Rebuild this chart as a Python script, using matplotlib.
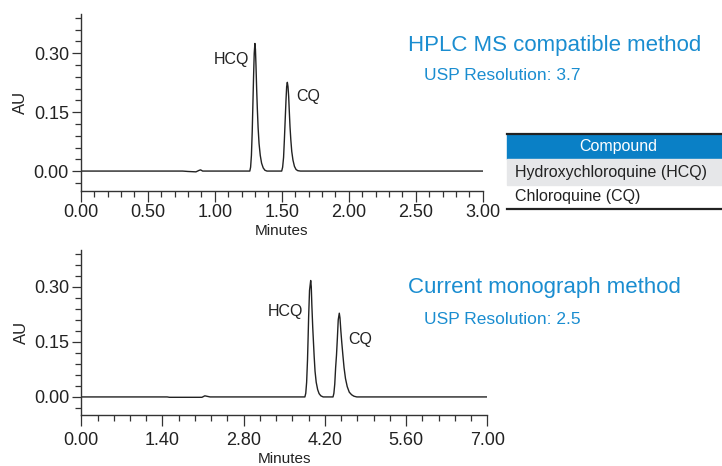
import matplotlib
matplotlib.use("Agg")
import matplotlib.pyplot as plt
from matplotlib.ticker import MultipleLocator, FormatStrFormatter
from matplotlib.patches import Rectangle
from matplotlib.lines import Line2D

plt.rcParams['font.family'] = ['Liberation Sans', 'DejaVu Sans']

# trace (HPLC MS compatible method)
t_ms = [0.00, 0.76, 0.80, 0.86, 0.885, 0.895, 0.91, 1.262, 1.268, 1.274, 1.280,
        1.285, 1.290, 1.295, 1.300, 1.304, 1.308, 1.313, 1.318, 1.324, 1.331,
        1.340, 1.350, 1.362, 1.375, 1.39, 1.500, 1.507, 1.514, 1.520, 1.526,
        1.532, 1.537, 1.542, 1.547, 1.552, 1.557, 1.562, 1.568, 1.575, 1.584,
        1.595, 1.607, 1.62, 1.64, 3.00]
au_ms = [0.000, 0.000, -0.001, -0.002, 0.002, 0.003, 0.000, 0.000, 0.010, 0.040, 0.100,
         0.170, 0.240, 0.300, 0.325, 0.310, 0.270, 0.210, 0.160, 0.110, 0.070,
         0.040, 0.020, 0.008, 0.002, 0.000, 0.000, 0.010, 0.035, 0.080, 0.130,
         0.180, 0.215, 0.226, 0.215, 0.190, 0.150, 0.113, 0.080, 0.050, 0.028,
         0.012, 0.004, 0.001, 0.000, 0.000]

# trace (current monograph method)
t_mono = [0.00, 1.48, 1.52, 2.08, 2.13, 2.16, 2.22, 3.855, 3.87, 3.885, 3.90, 3.91,
          3.92, 3.935, 3.955, 3.965, 3.975, 3.99, 4.00, 4.015, 4.03, 4.05, 4.075,
          4.10, 4.13, 4.17, 4.34, 4.355, 4.37, 4.385, 4.40, 4.415, 4.43, 4.448,
          4.46, 4.475, 4.49, 4.51, 4.53, 4.555, 4.585, 4.62, 4.66, 4.70, 4.75, 7.00]
au_mono = [0.000, 0.000, -0.001, -0.001, 0.003, 0.002, 0.000, 0.000, 0.010, 0.040, 0.100, 0.158,
           0.220, 0.290, 0.317, 0.300, 0.250, 0.190, 0.158, 0.110, 0.070, 0.040, 0.020,
           0.009, 0.003, 0.000, 0.000, 0.010, 0.035, 0.080, 0.114, 0.160, 0.210, 0.228,
           0.215, 0.180, 0.150, 0.114, 0.080, 0.050, 0.028, 0.013, 0.006, 0.002, 0.000, 0.000]

peak_names = ["HCQ", "CQ"]
ms_label_pos = [(1.256, 0.285), (1.607, 0.189)]
mono_label_pos = [(3.817, 0.232), (4.60, 0.157)]

titles = ["HPLC MS compatible method", "Current monograph method"]
resolutions = ["USP Resolution: 3.7", "USP Resolution: 2.5"]

table_header = "Compound"
compounds = ["Hydroxychloroquine (HCQ)", "Chloroquine (CQ)"]

blue_txt = '#1a8dd0'
blue_head = '#0a80c6'
W, H = 722, 466

fig = plt.figure(figsize=(7.22, 4.66), dpi=100)
ax1 = fig.add_axes([80.7 / W, 1 - 190.7 / H, 402 / W, 176.7 / H])
ax2 = fig.add_axes([81.3 / W, 1 - 415.3 / H, 406 / W, 165.3 / H])


def style(ax, xmax, major, minor, xpad):
    ax.set_xlim(0, xmax)
    ax.set_ylim(-0.05, 0.40)
    for s in ['top', 'right']:
        ax.spines[s].set_visible(False)
    for s in ['left', 'bottom']:
        ax.spines[s].set_color('#333333')
        ax.spines[s].set_linewidth(1.0)
    ax.xaxis.set_major_locator(MultipleLocator(major))
    ax.xaxis.set_minor_locator(MultipleLocator(minor))
    ax.yaxis.set_major_locator(MultipleLocator(0.15))
    ax.yaxis.set_minor_locator(MultipleLocator(0.03))
    ax.xaxis.set_major_formatter(FormatStrFormatter('%.2f'))
    ax.yaxis.set_major_formatter(FormatStrFormatter('%.2f'))
    ax.tick_params(which='both', width=0.9, color='#333333',
                   labelsize=13, labelcolor='#222222')
    ax.tick_params(axis='x', which='major', length=8, pad=xpad)
    ax.tick_params(axis='y', which='major', length=6.5, pad=2)
    ax.tick_params(which='minor', length=4.2)
    ax.set_xlabel('Minutes', fontsize=11, color='#222222', labelpad=2.5)
    ax.set_ylabel('AU', fontsize=12, color='#222222', labelpad=4)


style(ax1, 3.0, 0.5, 0.1, 1.5)
style(ax2, 7.0, 1.4, 0.28, 4.0)

ax1.plot(t_ms, au_ms, color='#222222', lw=1.0)
ax2.plot(t_mono, au_mono, color='#222222', lw=1.0)

for name, (x, y) in zip(peak_names, ms_label_pos):
    ax1.text(x, y, name, fontsize=11.5, color='#222222',
             ha='right' if name == 'HCQ' else 'left', va='center')
for name, (x, y) in zip(peak_names, mono_label_pos):
    ax2.text(x, y, name, fontsize=11.5, color='#222222',
             ha='right' if name == 'HCQ' else 'left', va='center')

# method titles
fig.text(408 / W, 1 - 45 / H, titles[0], fontsize=16, color=blue_txt, va='center')
fig.text(424 / W, 1 - 76 / H, resolutions[0], fontsize=12.5, color=blue_txt, va='center')
fig.text(408 / W, 1 - 287 / H, titles[1], fontsize=16, color=blue_txt, va='center')
fig.text(424 / W, 1 - 320 / H, resolutions[1], fontsize=12.5, color=blue_txt, va='center')

# compound table
x0 = 506.7 / W
fig.patches.append(Rectangle((x0, 1 - 159.3 / H), 1 - x0, 25.3 / H,
                             transform=fig.transFigure, color=blue_head, zorder=1))
fig.patches.append(Rectangle((x0, 1 - 185 / H), 1 - x0, 25.7 / H,
                             transform=fig.transFigure, color='#e6e7e9', zorder=1))
for yy in [134, 209.3]:
    fig.lines.append(Line2D([x0, 1], [1 - yy / H, 1 - yy / H], transform=fig.transFigure,
                            color='#222222', lw=1.6, zorder=2))
fig.text(618 / W, 1 - 146.5 / H, table_header, fontsize=11.5, color='white',
         ha='center', va='center')
for i, c in enumerate(compounds):
    fig.text(515 / W, 1 - (172 + 25 * i) / H, c, fontsize=11.5, color='#222222',
             va='center')

fig.savefig('out.png', dpi=100)
